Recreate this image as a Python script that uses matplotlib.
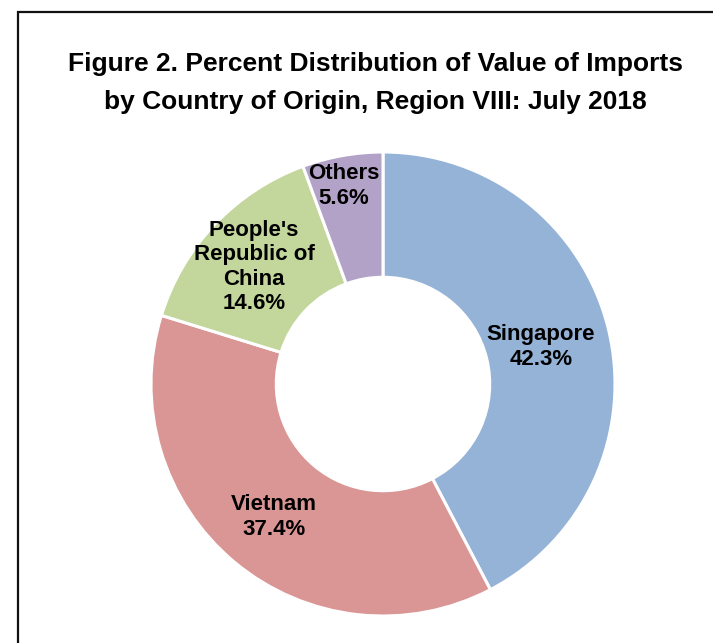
import matplotlib.pyplot as plt
from matplotlib.patches import Rectangle

plt.rcParams['font.family'] = ['Liberation Sans', 'DejaVu Sans']

countries = ['Singapore', 'Vietnam', "People's\nRepublic of\nChina", 'Others']
shares = [42.3, 37.4, 14.6, 5.6]
colors = ['#95B3D7', '#D99694', '#C3D69B', '#B3A2C7']
# label positions in pixels (x from left, y from top)
label_xy = [(541, 347), (274, 517), (254, 267), (344, 186)]

W, H = 713, 643
fig = plt.figure(figsize=(W / 100, H / 100), dpi=100)
ax = fig.add_axes([0, 0, 1, 1])

ax.add_patch(Rectangle((17.5, -20), W + 40, H - 12 + 20, fill=False,
                       edgecolor='#111111', lw=1.6))

ax.pie(shares, colors=colors, startangle=90, counterclock=False,
       center=(383, H - 384), radius=232, frame=True,
       wedgeprops=dict(width=232 * 0.54, edgecolor='white', linewidth=2.2))
ax.set_xlim(0, W)
ax.set_ylim(0, H)
ax.set_aspect('equal')
ax.axis('off')

for name, val, (x, y) in zip(countries, shares, label_xy):
    ax.text(x, H - y, f'{name}\n{val:.1f}%', ha='center', va='center',
            fontsize=16, fontweight='bold', linespacing=1.2, color='black')

ax.text(375.5, H - 83, 'Figure 2. Percent Distribution of Value of Imports\n'
        'by Country of Origin, Region VIII: July 2018',
        ha='center', va='center', fontsize=19, fontweight='bold',
        linespacing=1.7)

fig.savefig('out.png', dpi=100)
